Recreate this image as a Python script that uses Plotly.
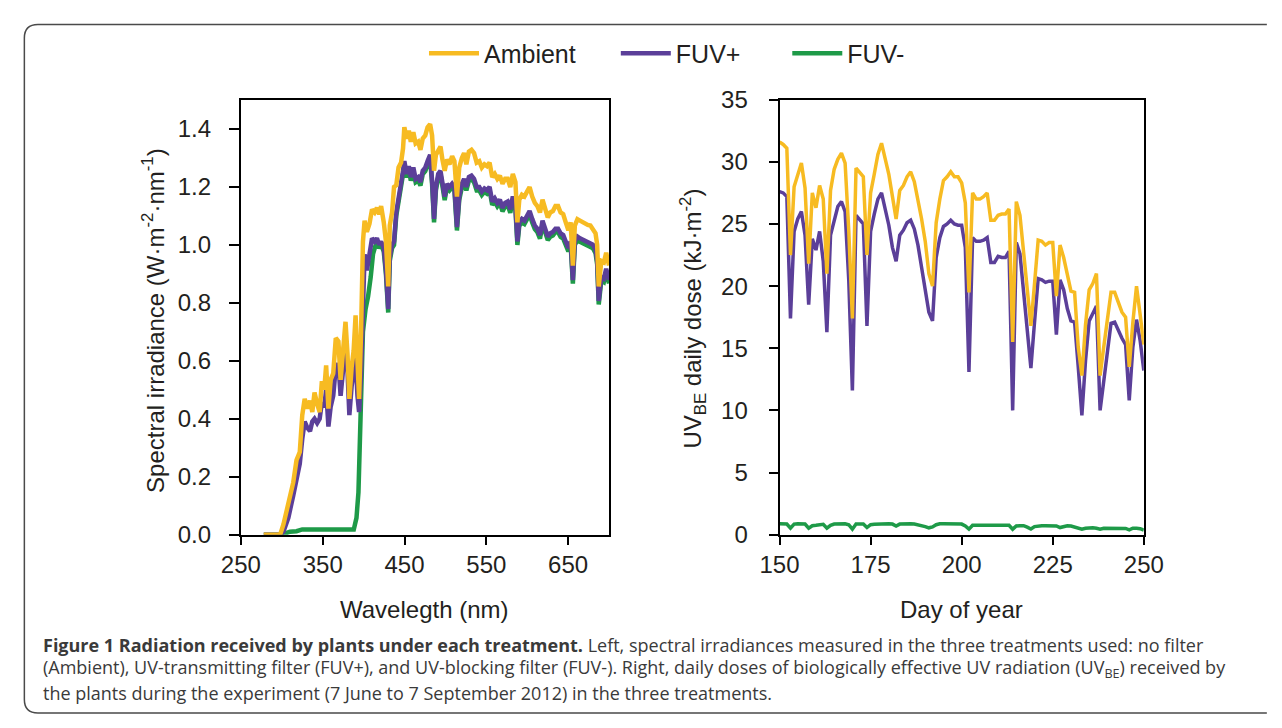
import plotly.graph_objects as go

# ---------------- data: spectral irradiance (left panel) ----------------
WAVELENGTH = [278, 298, 302, 308, 314, 318, 322, 325, 328,
    331.3, 334.5, 337.3, 340.0, 343.2, 346.3, 349.0, 351.9, 354.2, 357.0,
    359.7, 362.9, 366.0, 369.2, 371.9, 374.7, 377.9, 380.3, 382.6, 385.4,
    387.8, 390.2, 392.5, 394.5, 396.9, 399.2, 401.2, 404.0, 407.2, 410.3,
    413.5, 416.3, 419.0, 421.4, 424.6, 427.3, 430.1, 432.0, 434.8, 437.2,
    439.9, 442.7, 445.8, 448.2, 449.8, 452.6, 455.3, 457.7, 460.8, 463.6,
    466.7, 469.5, 472.3, 475.4, 478.2, 481.3, 483.7, 486.1, 488.4, 491.2,
    494.0, 496.3, 499.1, 501.9, 505.0, 508.2, 511.0, 514.1, 516.9, 520.1,
    522.8, 525.6, 528.7, 531.9, 535.0, 538.2, 541.4, 544.5, 547.7, 550.8,
    554.0, 557.2, 560.3, 563.5, 566.6, 569.8, 573.0, 576.1, 579.3, 582.4,
    585.6, 588.0, 590.3, 593.5, 596.6, 599.8, 602.9, 606.1, 609.3, 612.4,
    615.6, 618.7, 621.9, 625.1, 628.2, 631.4, 634.5, 637.7, 640.8, 644.0,
    647.1, 650.3, 653.1, 655.8, 658.2, 661.4, 664.5, 667.7, 670.9, 674.0,
    677.2, 680.3, 683.5, 685.5, 687.4, 690.6, 693.7, 696.5, 700.0]

IRR_AMBIENT = [0.0, 0.0, 0.035, 0.100, 0.180, 0.257, 0.285, 0.412, 0.468,
    0.435, 0.462, 0.423, 0.490, 0.451, 0.423, 0.529, 0.500, 0.584, 0.435,
    0.534, 0.556, 0.678, 0.667, 0.534, 0.623, 0.734, 0.623, 0.468, 0.578,
    0.634, 0.756, 0.534, 0.468, 0.700, 1.011, 1.083, 1.044, 1.072, 1.122,
    1.111, 1.127, 1.105, 1.133, 1.078, 1.011, 0.856, 1.066, 1.111, 1.199,
    1.205, 1.266, 1.283, 1.332, 1.405, 1.366, 1.393, 1.355, 1.388, 1.349,
    1.355, 1.327, 1.366, 1.377, 1.405, 1.416, 1.377, 1.255, 1.310, 1.327,
    1.338, 1.294, 1.255, 1.294, 1.277, 1.305, 1.288, 1.166, 1.266, 1.299,
    1.316, 1.277, 1.321, 1.327, 1.316, 1.283, 1.288, 1.266, 1.277, 1.271,
    1.283, 1.233, 1.244, 1.227, 1.238, 1.210, 1.227, 1.227, 1.199, 1.244,
    1.216, 1.077, 1.155, 1.172, 1.166, 1.183, 1.199, 1.166, 1.144, 1.133,
    1.111, 1.155, 1.122, 1.094, 1.111, 1.116, 1.133, 1.133, 1.111, 1.105,
    1.077, 1.050, 1.077, 0.928, 1.066, 1.088, 1.083, 1.077, 1.072, 1.068,
    1.066, 1.055, 1.039, 1.000, 0.856, 0.944, 0.939, 0.972, 0.928]

IRR_FUVP = [0.0, 0.0, 0.010, 0.058, 0.135, 0.200, 0.245, 0.330, 0.390,
    0.368, 0.357, 0.390, 0.400, 0.385, 0.400, 0.456, 0.440, 0.500, 0.373,
    0.440, 0.479, 0.578, 0.590, 0.479, 0.556, 0.656, 0.567, 0.412, 0.512,
    0.556, 0.612, 0.479, 0.423, 0.556, 0.822, 0.967, 0.911, 0.978, 1.022,
    1.011, 1.022, 1.000, 1.011, 0.989, 0.911, 0.778, 0.956, 1.000, 1.011,
    1.111, 1.155, 1.199, 1.255, 1.288, 1.244, 1.271, 1.233, 1.266, 1.227,
    1.233, 1.216, 1.255, 1.266, 1.288, 1.310, 1.221, 1.089, 1.199, 1.244,
    1.255, 1.210, 1.166, 1.210, 1.199, 1.210, 1.199, 1.061, 1.166, 1.210,
    1.227, 1.199, 1.233, 1.238, 1.227, 1.199, 1.199, 1.183, 1.194, 1.188,
    1.199, 1.149, 1.160, 1.144, 1.155, 1.127, 1.144, 1.149, 1.122, 1.166,
    1.133, 1.011, 1.077, 1.089, 1.083, 1.100, 1.116, 1.089, 1.066, 1.055,
    1.033, 1.083, 1.055, 1.028, 1.039, 1.044, 1.055, 1.055, 1.039, 1.033,
    1.011, 0.989, 1.011, 0.878, 1.011, 1.028, 1.022, 1.017, 1.011, 1.009,
    1.005, 1.000, 0.983, 0.944, 0.806, 0.889, 0.883, 0.917, 0.878]

WL_FUVM_UV = [278, 298, 305, 310, 318, 325, 388, 391.3, 393.7, 395.3,
    396.9, 399.2, 402.4, 405.5, 408.7, 411.5, 414.3]
WAVELENGTH_FUVM = WL_FUVM_UV + WAVELENGTH[40:]
IRR_FUVM = [0.0, 0.0, 0.005, 0.010, 0.012, 0.018, 0.018, 0.058, 0.146, 0.310,
    0.534, 0.700, 0.778, 0.822, 0.889, 0.967, 0.995,
    1.010, 0.988, 0.999, 0.977, 0.899, 0.766, 0.944, 0.988, 0.999,
    1.099, 1.143, 1.187, 1.243, 1.276, 1.232, 1.259, 1.221, 1.254, 1.215,
    1.221, 1.204, 1.243, 1.254, 1.276, 1.298, 1.209, 1.077, 1.187, 1.232,
    1.243, 1.198, 1.154, 1.198, 1.187, 1.198, 1.187, 1.049, 1.154, 1.198,
    1.215, 1.187, 1.221, 1.226, 1.215, 1.187, 1.187, 1.171, 1.182, 1.176,
    1.187, 1.137, 1.148, 1.132, 1.143, 1.115, 1.132, 1.137, 1.110, 1.154,
    1.121, 0.999, 1.065, 1.077, 1.071, 1.088, 1.104, 1.077, 1.054, 1.043,
    1.021, 1.071, 1.043, 1.016, 1.027, 1.032, 1.043, 1.043, 1.027, 1.021,
    0.999, 0.977, 0.999, 0.866, 0.999, 1.016, 1.010, 1.005, 0.999, 0.997,
    0.993, 0.988, 0.971, 0.932, 0.794, 0.877, 0.871, 0.905, 0.866]

# ---------------- data: daily UVBE dose (right panel) ----------------
DAYS = list(range(150, 251))
DOSE_AMBIENT = [31.6, 31.4, 31.1, 22.5, 28.0, 29.0, 29.9, 27.9, 21.8, 27.5,
    26.3, 28.1, 27.0, 21.0, 27.7, 29.4, 30.2, 30.7, 29.9, 24.5,
    17.4, 29.5, 29.2, 28.8, 22.5, 27.5, 29.0, 30.6, 31.5, 30.3,
    29.0, 27.2, 25.4, 27.7, 28.1, 28.8, 29.2, 28.4, 27.0, 25.4,
    23.6, 21.0, 20.0, 25.1, 27.0, 28.5, 28.8, 29.2, 28.8, 28.8,
    28.3, 26.7, 19.5, 27.5, 27.0, 27.0, 27.2, 27.5, 25.3, 25.3,
    25.7, 25.8, 25.8, 26.2, 15.5, 26.8, 25.7, 22.8, 19.2, 16.8,
    20.2, 23.7, 23.6, 23.3, 23.5, 23.5, 19.2, 23.3, 22.3, 20.8,
    19.6, 19.5, 15.1, 12.8, 16.9, 19.7, 20.2, 21.0, 12.8, 15.1,
    17.4, 19.5, 19.5, 18.6, 17.9, 17.5, 13.5, 17.1, 20.0, 17.7,
    15.3]
DOSE_FUVP = [27.6, 27.5, 27.2, 17.4, 24.4, 25.4, 26.0, 24.1, 18.5, 23.8,
    22.9, 24.4, 22.0, 16.3, 24.1, 25.4, 26.4, 26.8, 26.0, 20.5,
    11.6, 25.7, 25.4, 25.0, 16.8, 24.4, 25.8, 27.0, 27.5, 26.2,
    24.9, 23.1, 22.0, 24.1, 24.5, 25.1, 25.3, 24.6, 23.3, 21.5,
    19.7, 17.9, 17.2, 22.3, 23.9, 24.8, 25.0, 25.3, 25.0, 24.9,
    24.9, 23.1, 13.1, 23.9, 23.6, 23.6, 23.7, 23.9, 21.9, 21.9,
    22.4, 22.3, 22.3, 22.8, 10.0, 23.5, 22.6, 19.7, 16.4, 13.4,
    17.1, 20.6, 20.5, 20.3, 20.4, 20.4, 16.1, 20.5, 19.7, 18.2,
    17.2, 17.1, 13.5, 9.6, 14.0, 17.2, 17.8, 18.4, 10.0, 12.5,
    14.8, 17.0, 17.1, 16.4, 15.8, 15.3, 10.8, 15.1, 17.3, 15.6,
    13.2]
DOSE_FUVM = [0.88, 0.88, 0.85, 0.52, 0.85, 0.88, 0.88, 0.85, 0.52, 0.72,
    0.75, 0.80, 0.83, 0.52, 0.75, 0.85, 0.88, 0.88, 0.88, 0.80,
    0.44, 0.85, 0.88, 0.85, 0.57, 0.80, 0.83, 0.85, 0.88, 0.88,
    0.88, 0.85, 0.70, 0.85, 0.88, 0.88, 0.88, 0.85, 0.80, 0.75,
    0.65, 0.55, 0.62, 0.80, 0.88, 0.88, 0.88, 0.88, 0.88, 0.88,
    0.85, 0.70, 0.44, 0.75, 0.76, 0.76, 0.76, 0.76, 0.76, 0.76,
    0.76, 0.76, 0.76, 0.76, 0.44, 0.70, 0.72, 0.72, 0.60, 0.45,
    0.65, 0.72, 0.72, 0.72, 0.72, 0.72, 0.70, 0.57, 0.65, 0.72,
    0.70, 0.62, 0.55, 0.44, 0.52, 0.55, 0.55, 0.52, 0.44, 0.52,
    0.52, 0.52, 0.52, 0.52, 0.52, 0.50, 0.39, 0.52, 0.52, 0.48,
    0.36]

SERIES = ["Ambient", "FUV+", "FUV-"]
COLORS = {"Ambient": "#F7BB22", "FUV+": "#5B3F99", "FUV-": "#1E9A48"}

LEFT_XTICKS = [250, 350, 450, 550, 650]
RIGHT_XTICKS = [150, 175, 200, 225, 250]

CAPTION = [
    "<b>Figure 1 Radiation received by plants under each treatment.</b> Left, spectral irradiances measured in the three treatments used: no filter",
    "(Ambient), UV-transmitting filter (FUV+), and UV-blocking filter (FUV-). Right, daily doses of biologically effective UV radiation (UV<sub>BE</sub>) received by",
    "the plants during the experiment (7 June to 7 September 2012) in the three treatments.",
]

# ---------------- layout geometry (pixels) ----------------
W, H = 1282, 728
def px(x):
    return x / W
def py(y):
    return 1 - y / H

PLOT_TOP, PLOT_BOTTOM = 89, 540.7
L_LEFT, L_RIGHT = 228, 608
R_LEFT, R_RIGHT = 784, 1160
LEGEND_X = {"Ambient": 417, "FUV+": 615, "FUV-": 792}
LEGEND_ID = {"Ambient": "legend", "FUV+": "legend2", "FUV-": "legend3"}

FONT_FAMILY = "Liberation Sans, Arial, sans-serif"
TICK_FONT = dict(family=FONT_FAMILY, size=24, color="#231f20")
TITLE_FONT = dict(family=FONT_FAMILY, size=24, color="#231f20")

fig = go.Figure()

left_data = {
    "Ambient": (WAVELENGTH, IRR_AMBIENT),
    "FUV+": (WAVELENGTH, IRR_FUVP),
    "FUV-": (WAVELENGTH_FUVM, IRR_FUVM),
}
right_data = {"Ambient": DOSE_AMBIENT, "FUV+": DOSE_FUVP, "FUV-": DOSE_FUVM}

for name in ["FUV-", "FUV+", "Ambient"]:
    xs, ys = left_data[name]
    fig.add_trace(go.Scatter(x=xs, y=ys, mode="lines", name=name, legendgroup=name,
                             legend=LEGEND_ID[name],
                             line=dict(color=COLORS[name], width=4.5),
                             xaxis="x", yaxis="y"))
for name in ["FUV-", "FUV+", "Ambient"]:
    fig.add_trace(go.Scatter(x=DAYS, y=right_data[name], mode="lines", name=name,
                             legendgroup=name, showlegend=False,
                             line=dict(color=COLORS[name], width=3.5),
                             xaxis="x2", yaxis="y2"))

axis_common = dict(showline=True, linecolor="black", linewidth=2, mirror=True,
                   ticks="outside", tickcolor="black", tickwidth=2,
                   showgrid=False, zeroline=False, tickfont=TICK_FONT)

legends = {}
for name in SERIES:
    legends[LEGEND_ID[name]] = dict(
        orientation="h", x=px(LEGEND_X[name]), xanchor="left", y=py(41), yanchor="middle",
        itemwidth=50, font=dict(family=FONT_FAMILY, size=25, color="#231f20"),
        bgcolor="rgba(0,0,0,0)")

fig.update_layout(
    width=W, height=H, margin=dict(l=0, r=0, t=0, b=0),
    paper_bgcolor="white", plot_bgcolor="white",
    xaxis=dict(domain=[px(L_LEFT), px(L_RIGHT)], range=[250, 700], ticklen=8,
               tickvals=LEFT_XTICKS, anchor="y", **axis_common),
    yaxis=dict(domain=[py(PLOT_BOTTOM), py(PLOT_TOP)], range=[0, 1.5], ticklen=10,
               ticklabelstandoff=13,
               tick0=0, dtick=0.2, tickformat=".1f", anchor="x", **axis_common),
    xaxis2=dict(domain=[px(R_LEFT), px(R_RIGHT)], range=[150, 250], ticklen=8,
                tickvals=RIGHT_XTICKS, anchor="y2", **axis_common),
    yaxis2=dict(domain=[py(PLOT_BOTTOM), py(PLOT_TOP)], range=[0, 35], ticklen=9,
                ticklabelstandoff=16,
                tick0=0, dtick=5, anchor="x2", **axis_common),
    showlegend=True,
    **legends,
)

annotations = [
    dict(text="Spectral irradiance (W·m<sup>-2</sup>·nm<sup>-1</sup>)", x=px(138), y=py(318),
         textangle=-90, font=TITLE_FONT),
    dict(text="Wavelegth (nm)", x=px((L_LEFT + L_RIGHT) / 2), y=py(618), font=TITLE_FONT),
    dict(text="UV<sub>BE</sub> daily dose (kJ·m<sup>-2</sup>)", x=px(695), y=py(316),
         textangle=-90, font=TITLE_FONT),
    dict(text="Day of year", x=px((R_LEFT + R_RIGHT) / 2), y=py(618), font=TITLE_FONT),
]
for i, line in enumerate(CAPTION):
    annotations.append(dict(text=line, x=px(22), y=py(655 + 25 * i), xanchor="left",
                            font=dict(family="Open Sans, sans-serif", size=18, color="#3a3a3a")))
for a in annotations:
    a.setdefault("xref", "paper")
    a.setdefault("yref", "paper")
    a.setdefault("showarrow", False)
    a.setdefault("xanchor", "center")
    a.setdefault("yanchor", "middle")
fig.update_layout(annotations=annotations)

# rounded outer frame (open to the right)
r = 14
x0, y0, y1 = 4.5, 11, 726
path = (f"M {px(W + 5)},{py(y0)} L {px(x0 + r)},{py(y0)} "
        f"Q {px(x0)},{py(y0)} {px(x0)},{py(y0 + r)} "
        f"L {px(x0)},{py(y1 - r)} Q {px(x0)},{py(y1)} {px(x0 + r)},{py(y1)} "
        f"L {px(W + 5)},{py(y1)}")
fig.add_shape(type="path", path=path, xref="paper", yref="paper",
              line=dict(color="#4a4a4a", width=1.5))

fig.write_html("out.html", config={"displayModeBar": False},
               post_script="document.body.style.margin='0';document.body.style.overflow='hidden';")
